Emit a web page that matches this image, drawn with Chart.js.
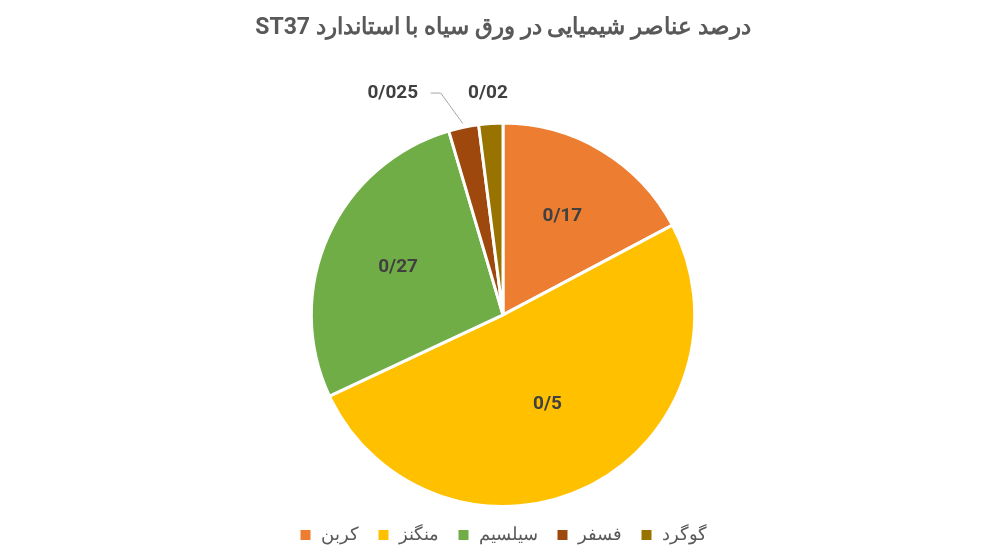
<!DOCTYPE html>
<html>
<head>
<meta charset="utf-8">
<script src="https://cdn.jsdelivr.net/npm/chart.js@4/dist/chart.umd.min.js"></script>
<style>
  html, body { margin: 0; padding: 0; background: #fff; }
  #wrap { width: 992px; height: 558px; }
</style>
</head>
<body>
<div id="wrap"><canvas id="pie"></canvas></div>
<script>
// Daten
const labels = ['کربن', 'منگنز', 'سیلسیم', 'فسفر', 'گوگرد'];
const werte = [0.17, 0.5, 0.27, 0.025, 0.02];
const textLabels = ['0/17', '0/5', '0/27', '0/025', '0/02'];
const farben = ['#ED7D31', '#FFC000', '#70AD47', '#9E480E', '#997300'];

const fontFamily = 'Roboto, "Noto Sans", sans-serif';

// Beschriftungen in/an den Segmenten
const labelPlugin = {
  id: 'sliceLabels',
  afterDatasetsDraw(chart) {
    const ctx = chart.ctx;
    const arcs = chart.getDatasetMeta(0).data;
    ctx.save();
    ctx.font = 'bold 19px ' + fontFamily;
    ctx.fillStyle = '#404040';
    ctx.textAlign = 'center';
    ctx.textBaseline = 'middle';
    arcs.forEach((arc, i) => {
      const mid = (arc.startAngle + arc.endAngle) / 2;
      const r = arc.outerRadius;
      if (werte[i] >= 0.1) {
        const k = i === 1 ? 0.52 : 0.6;
        ctx.fillText(textLabels[i], arc.x + Math.cos(mid) * r * k, arc.y + Math.sin(mid) * r * k);
      } else if (i === 3) {
        const ex = arc.x + Math.cos(mid) * r * 1.02;
        const ey = arc.y + Math.sin(mid) * r * 1.02;
        ctx.strokeStyle = '#a6a6a6';
        ctx.lineWidth = 1;
        ctx.beginPath();
        ctx.moveTo(ex, ey);
        ctx.lineTo(ex - 22, arc.y - r - 30);
        ctx.lineTo(ex - 32, arc.y - r - 30);
        ctx.stroke();
        ctx.fillText(textLabels[i], ex - 70, arc.y - r - 30);
      } else {
        ctx.fillText(textLabels[i], arc.x - 15, arc.y - r - 30);
      }
    });
    ctx.restore();
  }
};

new Chart(document.getElementById('pie').getContext('2d'), {
  type: 'pie',
  data: {
    labels,
    datasets: [{
      data: werte,
      backgroundColor: farben,
      borderColor: '#ffffff',
      borderWidth: 3
    }]
  },
  options: {
    responsive: true,
    maintainAspectRatio: false,
    animation: false,
    layout: { padding: { top: 0, bottom: 4, left: 14 } },
    plugins: {
      title: {
        display: true,
        text: 'ST37 درصد عناصر شیمیایی در ورق سیاه با استاندارد',
        color: '#595959',
        font: { family: fontFamily, size: 23, weight: 'bold' },
        padding: { top: 14, bottom: 80 }
      },
      legend: {
        position: 'bottom',
        labels: {
          color: '#595959',
          font: { family: fontFamily, size: 18 },
          boxWidth: 13,
          boxHeight: 13,
          padding: 18
        }
      },
      tooltip: { enabled: false }
    }
  },
  plugins: [labelPlugin]
});
</script>
</body>
</html>
